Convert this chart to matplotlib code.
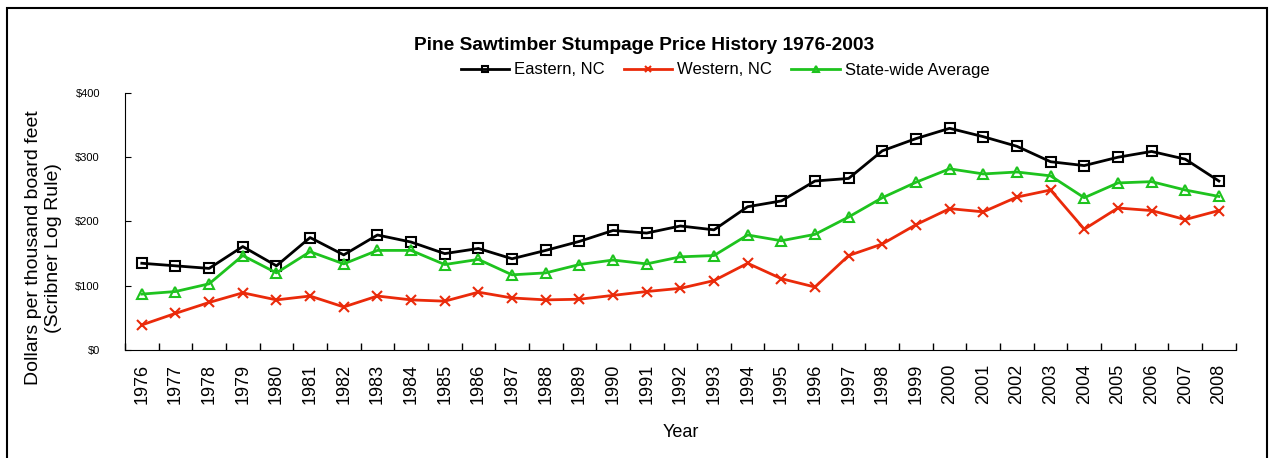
import numpy as np
import matplotlib.pyplot as plt
from matplotlib.patches import Rectangle

plt.rcParams['font.family'] = ['Liberation Sans', 'DejaVu Sans']

years = list(range(1976, 2009))

eastern = [135, 131, 127, 161, 131, 175, 148, 179, 168, 150, 158, 142,
           155, 169, 186, 182, 193, 187, 223, 232, 263, 267, 310, 329,
           345, 332, 317, 293, 287, 300, 309, 297, 263]
western = [39, 57, 74, 89, 78, 84, 67, 84, 78, 76, 90, 81,
           78, 79, 85, 91, 96, 108, 135, 111, 98, 147, 165, 195,
           220, 215, 238, 249, 188, 221, 217, 203, 217]
statewide = [87, 91, 103, 147, 120, 153, 134, 155, 155, 133, 141, 117,
             120, 133, 140, 134, 145, 147, 179, 170, 180, 207, 237, 261,
             282, 274, 277, 271, 237, 260, 262, 249, 239]

black = '#000000'
red = '#ea2a0a'
green = '#1ec31e'

fig = plt.figure(figsize=(12.7, 4.58), dpi=100)
ax = fig.add_axes([0.0984, 0.2358, 0.8746, 0.5612])

x = np.arange(len(years))
ax.plot(x, eastern, color=black, lw=2, marker='s', ms=7, mfc='none',
        mec=black, mew=1.5, label='Eastern, NC')
ax.plot(x, western, color=red, lw=2, marker='x', ms=7, mec=red,
        mew=1.5, label='Western, NC')
ax.plot(x, statewide, color=green, lw=2, marker='^', ms=7, mfc='none',
        mec=green, mew=1.5, label='State-wide Average')

ax.set_xlim(-0.5, len(years) - 0.5)
ax.set_ylim(0, 400)
ax.set_yticks([0, 100, 200, 300, 400])
ax.set_yticklabels(['$0', '$100', '$200', '$300', '$400'], fontsize=8)
ax.set_xticks(x)
ax.set_xticklabels([str(y) for y in years], rotation=90, fontsize=13)
ax.set_xticks(np.arange(-0.5, len(years)), minor=True)
ax.tick_params(axis='x', which='major', length=0, pad=10)
ax.tick_params(axis='x', which='minor', direction='in', length=5, width=1)
ax.tick_params(axis='y', direction='in', length=4, pad=18)
for side in ['top', 'right']:
    ax.spines[side].set_visible(False)

ax.set_xlabel('Year', fontsize=13, labelpad=14)
fig.text(43.5 / 1270, 1 - 248 / 458,
         'Dollars per thousand board feet\n(Scribner Log Rule)',
         rotation=90, ha='center', va='center', multialignment='center',
         fontsize=14, linespacing=1.3)

fig.text(0.5075, 1 - 45 / 458, 'Pine Sawtimber Stumpage Price History 1976-2003',
         ha='center', va='center', fontsize=13.8, fontweight='bold')
fig.legend(loc='center', bbox_to_anchor=(0.571, 1 - 70 / 458), ncol=3,
           frameon=False, fontsize=12, handlelength=2.9, markerscale=0.55,
           columnspacing=1.15, handletextpad=0.3)

# outer frame around the chart
fig.patches.append(Rectangle((7 / 1270, -0.1), 1260 / 1270, 1.1 - 8 / 458,
                             transform=fig.transFigure, fill=False,
                             edgecolor='black', lw=1.5, clip_on=False))

fig.savefig('out.png', dpi=100)
